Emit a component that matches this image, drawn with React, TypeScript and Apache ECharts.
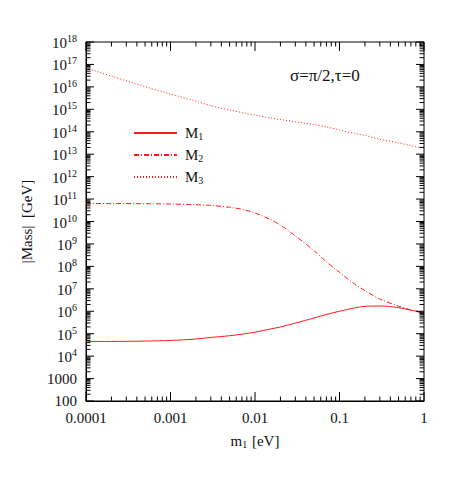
import React, { useEffect, useRef } from "react";
import * as echarts from "echarts";

const m1Values = [1e-4, 2e-4, 5e-4, 1e-3, 2e-3, 3e-3, 5e-3, 7e-3, 1e-2, 1.5e-2, 2e-2, 3e-2, 5e-2, 7e-2, 0.1, 0.15, 0.2, 0.3, 0.5, 0.7, 1];
const M1 = [4.5e4, 4.5e4, 4.7e4, 5.0e4, 5.8e4, 6.8e4, 8.1e4, 9.5e4, 1.17e5, 1.6e5, 2.0e5, 2.95e5, 5.0e5, 7.2e5, 1.0e6, 1.4e6, 1.65e6, 1.72e6, 1.45e6, 1.12e6, 8.7e5];
const M2 = [6.3e10, 6.3e10, 6.2e10, 6.0e10, 5.6e10, 5.2e10, 4.3e10, 3.5e10, 2.4e10, 1.25e10, 6.9e9, 2.3e9, 5.0e8, 1.6e8, 5.4e7, 1.66e7, 8.3e6, 3.5e6, 1.7e6, 1.15e6, 7.9e5];
const M3 = [6.9e16, 3.0e16, 1.02e16, 4.8e15, 2.3e15, 1.45e15, 9.3e14, 7.2e14, 5.5e14, 4.2e14, 3.5e14, 2.8e14, 2.1e14, 1.66e14, 1.2e14, 8.5e13, 6.9e13, 4.6e13, 3.2e13, 2.4e13, 1.86e13];

const seriesNames = ["M1", "M2", "M3"];
const xTickLabels: Record<string, string> = { "-4": "0.0001", "-3": "0.001", "-2": "0.01", "-1": "0.1", "0": "1" };
const yPlainLabels: Record<string, string> = { "2": "100", "3": "1000" };
const annotation = "σ=π/2,τ=0";

const X_MIN = 1e-4, X_MAX = 1, Y_MIN = 100, Y_MAX = 1e18;
const FONT = "Liberation Serif";
const RED = "#ff1a1a";

function zip(xs: number[], ys: number[]) {
  return xs.map((x, i) => [x, ys[i]]);
}

export default function App() {
  const ref = useRef<HTMLDivElement>(null);
  useEffect(() => {
    if (!ref.current) return;
    const chart = echarts.init(ref.current, null, { renderer: "svg" });

    const renderTicks = (params: any, api: any) => {
      const cs = params.coordSys;
      const left = cs.x, right = cs.x + cs.width, top = cs.y, bottom = cs.y + cs.height;
      const children: any[] = [];
      const st = { stroke: "#000", lineWidth: 1 };
      for (let d = -4; d <= 0; d++) {
        for (let m = 1; m <= 9; m++) {
          const v = m * Math.pow(10, d);
          if (v > X_MAX * 1.0001) break;
          const px = api.coord([v, Y_MIN])[0];
          const len = m === 1 ? 9 : 4.5;
          children.push({ type: "line", shape: { x1: px, y1: bottom, x2: px, y2: bottom - len }, style: st });
          children.push({ type: "line", shape: { x1: px, y1: top, x2: px, y2: top + len }, style: st });
        }
      }
      for (let d = 2; d <= 18; d++) {
        for (let m = 1; m <= 9; m++) {
          const v = m * Math.pow(10, d);
          if (v > Y_MAX * 1.0001) break;
          const py = api.coord([X_MIN, v])[1];
          const len = m === 1 ? 8 : 4.5;
          children.push({ type: "line", shape: { x1: left, y1: py, x2: left + len, y2: py }, style: st });
          children.push({ type: "line", shape: { x1: right, y1: py, x2: right - len, y2: py }, style: st });
        }
      }
      return { type: "group", children };
    };

    const lineSeries = (name: string, data: number[], dash: any) => ({
      name,
      type: "line",
      data: zip(m1Values, data),
      symbol: "none",
      smooth: 0.3,
      lineStyle: { color: RED, width: 1, type: dash },
      itemStyle: { color: RED },
      z: 3,
    });

    chart.setOption({
      animation: false,
      backgroundColor: "#fff",
      grid: { left: 86, right: 39, top: 42, bottom: 90, show: true, borderColor: "#000", borderWidth: 1 },
      legend: {
        data: seriesNames,
        orient: "vertical",
        left: 128,
        top: 116,
        itemWidth: 43,
        itemHeight: 12,
        itemGap: 2,
        itemStyle: { opacity: 0, borderWidth: 0 },
        formatter: (n: string) => `{m|M}{s|${n.slice(1)}}`,
        textStyle: {
          fontFamily: FONT,
          color: "#111",
          padding: [0, 0, 0, 3],
          rich: {
            m: { fontFamily: FONT, fontSize: 15, color: "#111", lineHeight: 16, verticalAlign: "top" },
            s: { fontFamily: FONT, fontSize: 10, color: "#111", lineHeight: 10, verticalAlign: "bottom", padding: [10, 0, 0, 0] },
          },
        },
      },
      xAxis: {
        type: "log",
        logBase: 10,
        min: X_MIN,
        max: X_MAX,
        interval: 1,
        name: "{m|m}{s|1}{m| [eV]}",
        nameLocation: "middle",
        nameGap: 30,
        nameTextStyle: {
          rich: {
            m: { fontFamily: FONT, fontSize: 15, color: "#111", lineHeight: 16, verticalAlign: "top" },
            s: { fontFamily: FONT, fontSize: 10, color: "#111", lineHeight: 10, verticalAlign: "bottom", padding: [10, 1, 0, 0] },
          },
        },
        axisLine: { show: true, lineStyle: { color: "#000", width: 1 } },
        axisTick: { show: false },
        splitLine: { show: false },
        minorTick: { show: false },
        axisLabel: {
          margin: 9,
          fontFamily: FONT,
          fontSize: 15,
          color: "#111",
          formatter: (v: number) => xTickLabels[String(Math.round(Math.log10(v)))] ?? "",
        },
      },
      yAxis: {
        type: "log",
        logBase: 10,
        min: Y_MIN,
        max: Y_MAX,
        interval: 1,
        name: "|Mass|  [GeV]",
        nameLocation: "middle",
        nameGap: 52,
        nameRotate: 90,
        nameTextStyle: { fontFamily: FONT, fontSize: 15, color: "#111" },
        axisLine: { show: true, lineStyle: { color: "#000", width: 1 } },
        axisTick: { show: false },
        splitLine: { show: false },
        minorTick: { show: false },
        axisLabel: {
          margin: 9,
          fontFamily: FONT,
          fontSize: 15,
          color: "#111",
          formatter: (v: number) => {
            const e = Math.round(Math.log10(v));
            const plain = yPlainLabels[String(e)];
            if (plain) return plain;
            return `{b|10}{e|${e}}`;
          },
          rich: {
            b: { fontFamily: FONT, fontSize: 15, color: "#111", lineHeight: 17, verticalAlign: "bottom" },
            e: { fontFamily: FONT, fontSize: 10, color: "#111", lineHeight: 10, verticalAlign: "top", padding: [0, 0, 7, 0] },
          },
        },
      },
      graphic: [
        {
          type: "text",
          left: 290,
          top: 67,
          style: { text: annotation, fontFamily: FONT, fontSize: 17, fill: "#111" },
        },
      ],
      series: [
        lineSeries("M1", M1, "solid"),
        lineSeries("M2", M2, [5, 2, 1, 2]),
        lineSeries("M3", M3, [1, 2]),
        {
          type: "custom",
          name: "ticks",
          silent: true,
          data: [[X_MIN, Y_MIN]],
          renderItem: renderTicks,
          z: 5,
          clip: false,
        },
      ],
    });
    return () => chart.dispose();
  }, []);

  return <div ref={ref} style={{ position: "fixed", left: 0, top: 0, width: 463, height: 491, background: "#fff" }} />;
}
